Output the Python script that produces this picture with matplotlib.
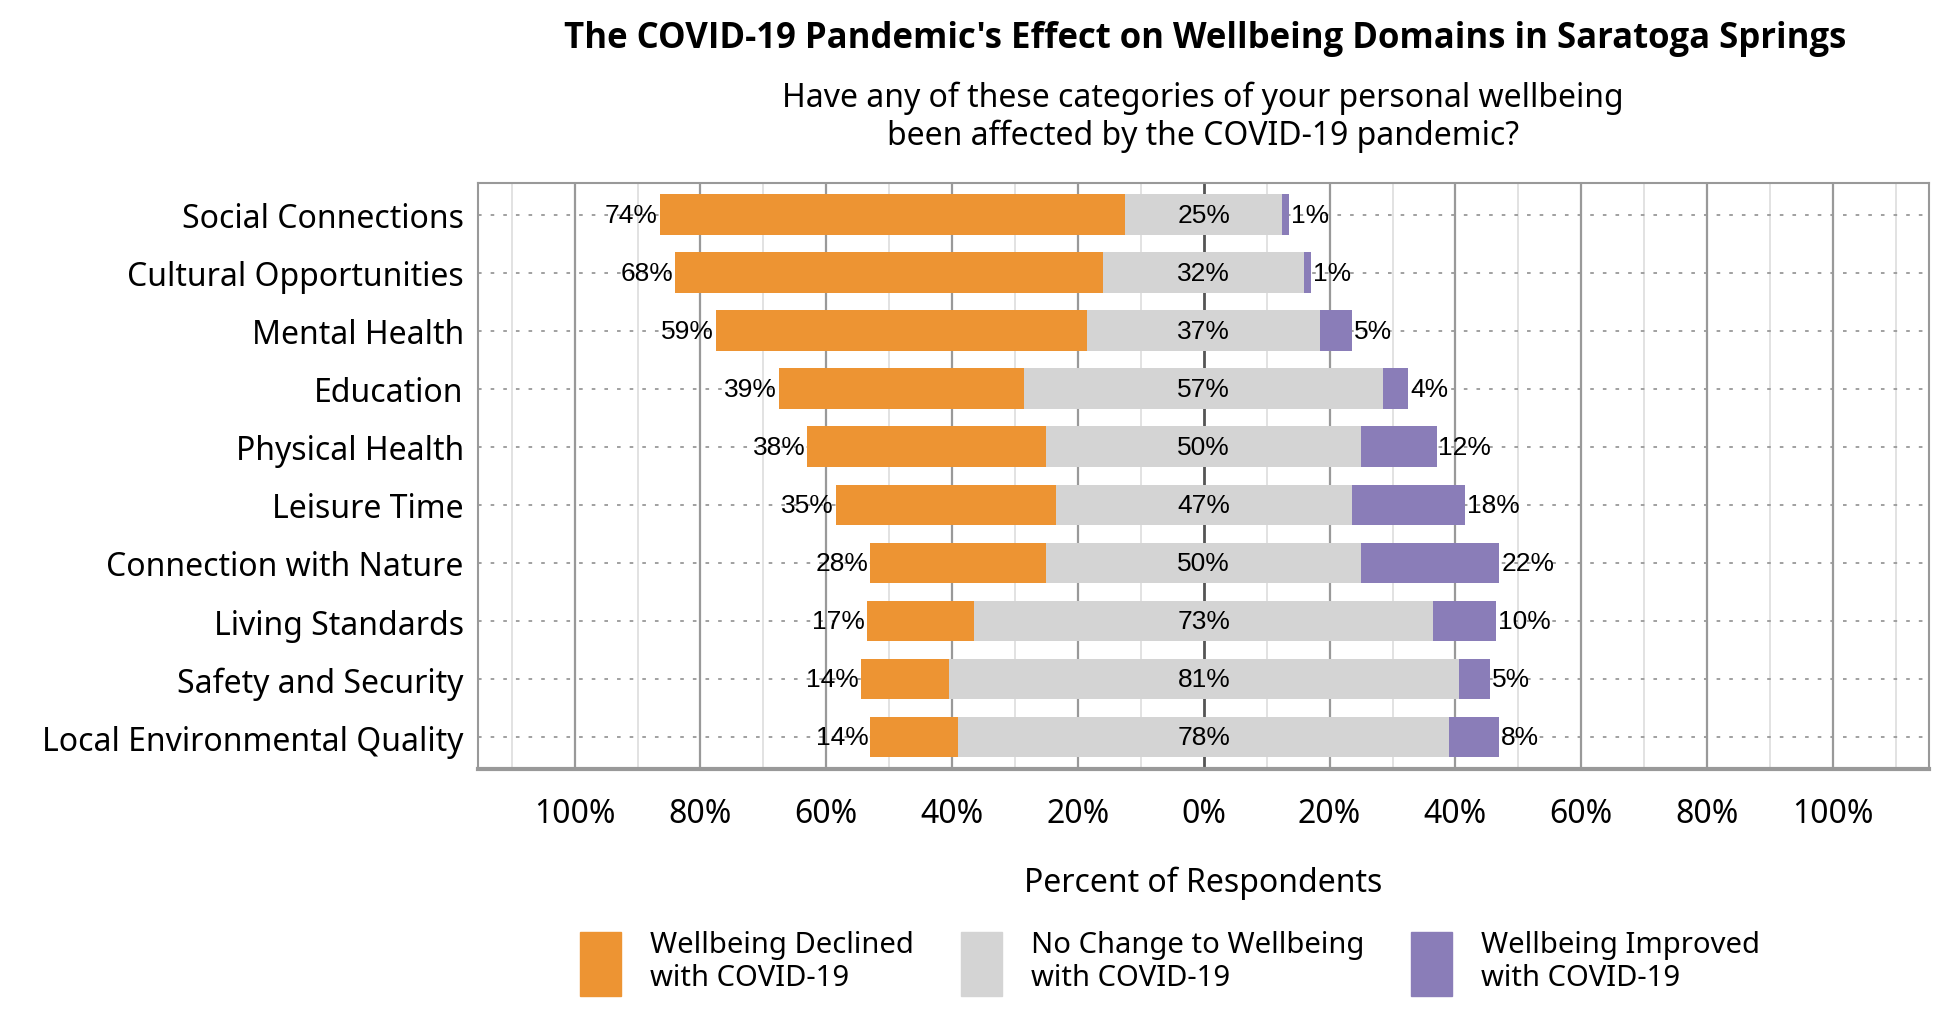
import matplotlib
matplotlib.use("Agg")
import matplotlib.pyplot as plt
import numpy as np
from matplotlib.patches import Patch

categories = ["Social Connections", "Cultural Opportunities", "Mental Health", "Education",
              "Physical Health", "Leisure Time", "Connection with Nature", "Living Standards",
              "Safety and Security", "Local Environmental Quality"]
declined = [74, 68, 59, 39, 38, 35, 28, 17, 14, 14]
nochange = [25, 32, 37, 57, 50, 47, 50, 73, 81, 78]
improved = [1, 1, 5, 4, 12, 18, 22, 10, 5, 8]
tick_vals = [-100, -80, -60, -40, -20, 0, 20, 40, 60, 80, 100]
tick_labels = [f"{abs(v)}%" for v in tick_vals]

c_dec, c_nc, c_imp = "#ED9433", "#D4D4D4", "#8A7DB8"
FONT = "Noto Sans"
plt.rcParams['font.family'] = [FONT, 'DejaVu Sans']

fig = plt.figure(figsize=(19.5, 10.2), dpi=100)
ax = fig.add_axes([0.245, 0.245, 0.744, 0.575])
y = np.arange(len(categories))
dec = np.array(declined); nc = np.array(nochange); imp = np.array(improved)
left_nc = -nc / 2
ax.set_xlim(-115.4, 115.2)
ax.set_ylim(len(categories) - 0.45, -0.55)

for v in range(-110, 111, 10):
    if v == 0:
        ax.axvline(v, color="#555555", lw=2, zorder=0)
    elif v % 20 == 0:
        ax.axvline(v, color="#999999", lw=1.6, zorder=0)
    else:
        ax.axvline(v, color="#DDDDDD", lw=1.2, zorder=0)
for yy in y:
    ax.axhline(yy, color="#999999", lw=1.3, ls=(0, (2, 5)), zorder=0.5)

h = 0.7
ax.barh(y, dec, left=left_nc - dec, height=h, color=c_dec, zorder=2)
ax.barh(y, nc, left=left_nc, height=h, color=c_nc, zorder=2)
ax.barh(y, imp, left=nc / 2, height=h, color=c_imp, zorder=2)

lab = dict(fontsize=19, family="Liberation Sans", va="center", zorder=3)
for i in range(len(categories)):
    ax.text(left_nc[i] - dec[i] - 0.3, y[i], f"{dec[i]}%", ha="right", **lab)
    ax.text(0, y[i], f"{nc[i]}%", ha="center", **lab)
    ax.text(nc[i] / 2 + imp[i] + 0.3, y[i], f"{imp[i]}%", ha="left", **lab)

ax.set_yticks(y)
ax.set_yticklabels(categories, fontsize=23)
ax.set_xticks(tick_vals)
ax.set_xticklabels(tick_labels, fontsize=23)
ax.tick_params(length=0, pad=10)
ax.tick_params(axis='x', pad=20)
for s in ax.spines.values():
    s.set_color("#999999"); s.set_linewidth(1.5)
ax.spines['bottom'].set_linewidth(3)
ax.set_xlabel("Percent of Respondents", fontsize=23, labelpad=26)

fig.text(0.618, 0.962, "The COVID-19 Pandemic's Effect on Wellbeing Domains in Saratoga Springs",
         ha="center", va="center", fontsize=25, fontweight="bold", family="Open Sans")
fig.text(0.617, 0.885, "Have any of these categories of your personal wellbeing\nbeen affected by the COVID-19 pandemic?",
         ha="center", va="center", fontsize=23, linespacing=1.15)

handles = [Patch(color=c_dec), Patch(color=c_nc), Patch(color=c_imp)]
labels = ["Wellbeing Declined\nwith COVID-19", "No Change to Wellbeing\nwith COVID-19", "Wellbeing Improved\nwith COVID-19"]
fig.legend(handles, labels, loc="center", bbox_to_anchor=(0.6, 0.055), ncol=3, frameon=False,
           fontsize=21, handlelength=1.4, handleheight=3.0, columnspacing=1.6, handletextpad=1.0)

fig.savefig("out.png", dpi=100)
